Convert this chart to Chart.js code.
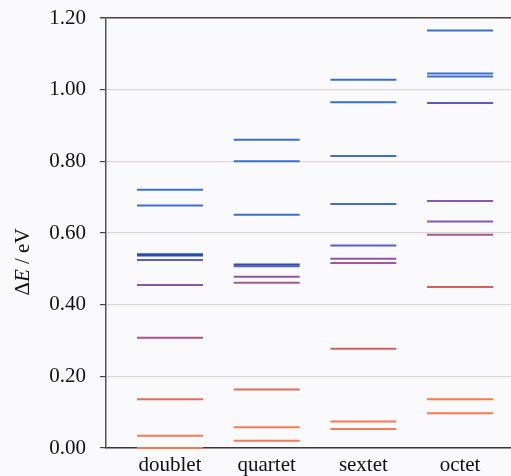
<!DOCTYPE html>
<html>
<head>
<meta charset="utf-8">
<script src="https://cdn.jsdelivr.net/npm/chart.js@4/dist/chart.umd.min.js"></script>
<style>
    html, body { margin: 0; padding: 0; background: #fafafc; }
    #wrap { width: 511px; height: 476px; position: relative; }
</style>
</head>
<body>
<div id="wrap"><canvas id="levelsChart"></canvas></div>
<script>
// spin states and their relative energies (eV)
const categories = ["doublet", "quartet", "sextet", "octet"];
const doublet = [0.000, 0.034, 0.136, 0.308, 0.455, 0.525, 0.537, 0.541, 0.677, 0.721];
const quartet = [0.020, 0.058, 0.163, 0.461, 0.478, 0.507, 0.512, 0.651, 0.800, 0.860];
const sextet = [0.053, 0.074, 0.277, 0.516, 0.528, 0.565, 0.681, 0.815, 0.965, 1.028];
const octet = [0.097, 0.136, 0.449, 0.595, 0.632, 0.689, 0.963, 1.037, 1.045, 1.165];
const yTicks = [0, 0.2, 0.4, 0.6, 0.8, 1.0, 1.2];

// line colours, one per level
const orange = "#f47c52", salmon = "#dc6e5e", red = "#cf635c", mauve = "#a8568a",
    purple = "#8a56a8", violet = "#5a5ec0", darkBlue = "#2d4db4", blue = "#3a6fcc";
const doubletColors = [orange, orange, salmon, mauve, purple, violet, darkBlue, darkBlue, blue, blue];
const quartetColors = [orange, orange, salmon, mauve, purple, violet, darkBlue, blue, blue, blue];
const sextetColors = [orange, orange, red, mauve, purple, violet, blue, blue, blue, blue];
const octetColors = [orange, orange, red, mauve, purple, purple, violet, blue, blue, blue];

const series = [doublet, quartet, sextet, octet];
const seriesColors = [doubletColors, quartetColors, sextetColors, octetColors];

const serif = "'Liberation Serif', 'DejaVu Serif', serif";

const datasets = series.map((values, i) => ({
    label: categories[i],
    data: values.map((v) => ({ x: i, y: v })),
    pointStyle: "line",
    pointRadius: 33,
    pointHoverRadius: 33,
    pointBorderWidth: 2,
    pointBorderColor: seriesColors[i],
    pointBackgroundColor: seriesColors[i],
    showLine: false,
    clip: false,
}));

// background + axis title with italic E
const decor = {
    id: "decor",
    beforeDraw(chart) {
        const c = chart.ctx;
        c.save();
        c.fillStyle = "#fafafc";
        c.fillRect(0, 0, chart.width, chart.height);
        c.restore();
    },
    afterDraw(chart) {
        const c = chart.ctx;
        c.save();
        c.translate(29, 262);
        c.rotate(-Math.PI / 2);
        c.fillStyle = "#111";
        c.textBaseline = "alphabetic";
        const parts = [
            ["Δ", "21px " + serif],
            ["E", "italic 21px " + serif],
            [" / eV", "21px " + serif],
        ];
        let total = 0;
        parts.forEach(([t, f]) => { c.font = f; total += c.measureText(t).width; });
        let x = -total / 2;
        parts.forEach(([t, f]) => {
            c.font = f;
            c.fillText(t, x, 0);
            x += c.measureText(t).width;
        });
        c.restore();
    },
};

new Chart(document.getElementById("levelsChart"), {
    type: "scatter",
    data: { datasets },
    plugins: [decor],
    options: {
        responsive: true,
        maintainAspectRatio: false,
        animation: false,
        events: [],
        layout: { autoPadding: false, padding: { top: 18, right: 0, left: 0, bottom: 0 } },
        plugins: {
            legend: { display: false },
            tooltip: { enabled: false },
        },
        scales: {
            x: {
                type: "linear",
                min: -0.662,
                max: 3.527,
                afterBuildTicks: (scale) => {
                    scale.ticks = categories.map((c, i) => ({ value: i }));
                },
                afterFit: (scale) => { scale.height = 28; },
                grid: { display: false },
                border: { display: true, color: "#3c3838", width: 1.5 },
                ticks: {
                    color: "#111",
                    padding: 0,
                    maxRotation: 0,
                    font: { family: serif, size: 21, lineHeight: 0.9 },
                    callback: (value) => categories[value] || "",
                },
            },
            y: {
                min: 0,
                max: 1.2,
                afterBuildTicks: (scale) => {
                    scale.ticks = yTicks.map((v) => ({ value: v }));
                },
                afterFit: (scale) => { scale.width = 106; },
                grid: {
                    color: (ctx) => (ctx.tick && ctx.tick.value === 1.2 ? "#4a4242" : "#ddd6d2"),
                    lineWidth: (ctx) => (ctx.tick && ctx.tick.value === 1.2 ? 1.5 : 1.2),
                    tickColor: "#4a4242",
                    tickLength: 6,
                    drawTicks: true,
                },
                border: { display: true, color: "#5a5050", width: 1.5 },
                ticks: {
                    color: "#111",
                    padding: 14,
                    // small line height keeps the label box from pushing the plot down
                    font: { family: serif, size: 21, lineHeight: 0.3 },
                    callback: (value) => value.toFixed(2),
                },
            },
        },
    },
});
</script>
</body>
</html>
